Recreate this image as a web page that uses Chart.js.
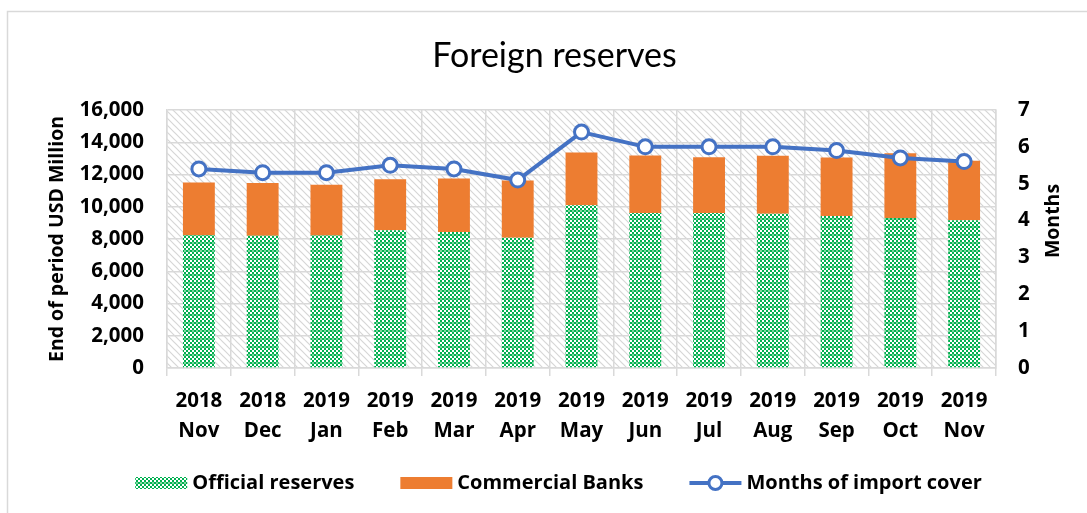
<!DOCTYPE html>
<html><head><meta charset="utf-8">
<script src="https://cdn.jsdelivr.net/npm/chart.js@4.4.0/dist/chart.umd.min.js"></script>
<style>
html,body{margin:0;padding:0;background:#fff;overflow:hidden}
#wrap{position:absolute;left:0;top:0;width:1087px;height:513px}
</style>
</head><body><div id="wrap"><canvas id="c" width="1087" height="513"></canvas></div>
<script>
const categories = [["2018","Nov"],["2018","Dec"],["2019","Jan"],["2019","Feb"],["2019","Mar"],["2019","Apr"],["2019","May"],["2019","Jun"],["2019","Jul"],["2019","Aug"],["2019","Sep"],["2019","Oct"],["2019","Nov"]];
const officialReserves = [8240, 8200, 8220, 8550, 8430, 8070, 10100, 9620, 9620, 9560, 9420, 9310, 9170];
const commercialBanks  = [3260, 3280, 3140, 3160, 3320, 3560, 3260, 3560, 3450, 3600, 3630, 4010, 3680];
const importCover      = [5.4, 5.3, 5.3, 5.5, 5.4, 5.1, 6.4, 6.0, 6.0, 6.0, 5.9, 5.7, 5.6];
const leftAxis = {min: 0, max: 16000, step: 2000};
const rightAxis = {min: 0, max: 7, step: 1};
const seriesNames = ["Official reserves", "Commercial Banks", "Months of import cover"];
const titleText = "Foreign reserves";
const leftTitle = "End of period USD Million";
const rightTitle = "Months";

const FONT = "'Open Sans'";
const TFONT = "Lato";
const GRID = "#d9d9d9";
const ORANGE = "#ed7d31";
const BLUE = "#4472c4";

function makeHatch() {
  const c = document.createElement('canvas'); c.width = 7; c.height = 7;
  const g = c.getContext('2d');
  g.fillStyle = '#fff'; g.fillRect(0,0,7,7);
  g.strokeStyle = '#d6d6d6'; g.lineWidth = 1.2;
  g.beginPath();
  g.moveTo(-1,-1); g.lineTo(8,8);
  g.moveTo(-1,6); g.lineTo(1,8);
  g.moveTo(6,-1); g.lineTo(8,1);
  g.stroke();
  return g.createPattern(c, 'repeat');
}
function makeChecker() {
  const c = document.createElement('canvas'); c.width = 8; c.height = 8;
  const g = c.getContext('2d');
  g.fillStyle = '#fff'; g.fillRect(0,0,8,8);
  for (let i = 0; i < 4; i++) for (let j = 0; j < 4; j++) {
    if ((i + j) % 2 === 0) { g.fillStyle = '#00b050'; g.fillRect(i*2, j*2, 2, 2); }
    else if (j === 1) { g.fillStyle = '#7fd7a0'; g.fillRect(i*2, j*2, 2, 2); }
  }
  g.fillStyle = '#ffffff'; g.fillRect(4,6,2,2);
  return g.createPattern(c, 'repeat');
}
const hatch = makeHatch();
const checker = makeChecker();

const decor = {
  id: 'decor',
  beforeDraw(chart) {
    const ctx = chart.ctx, a = chart.chartArea;
    ctx.save();
    ctx.strokeStyle = GRID; ctx.lineWidth = 1.5;
    ctx.strokeRect(7.5, 11.5, 1200, 600);
    ctx.fillStyle = hatch;
    ctx.fillRect(a.left, a.top, a.right - a.left, a.bottom - a.top);
    ctx.restore();
  },
  afterDraw(chart) {
    const ctx = chart.ctx;
    ctx.save();
    ctx.fillStyle = '#000';
    ctx.font = `34px ${TFONT}`;
    ctx.textAlign = 'center'; ctx.textBaseline = 'alphabetic';
    ctx.fillText(titleText, 554.5, 67);
    // right axis title, reading bottom to top
    ctx.save();
    ctx.font = `bold 19.5px ${FONT}`;
    ctx.textBaseline = 'middle';
    ctx.translate(1053, 221);
    ctx.rotate(-Math.PI / 2);
    ctx.fillText(rightTitle, 0, 0);
    ctx.restore();
    // legend
    ctx.font = `bold 20px ${FONT}`;
    ctx.textAlign = 'left'; ctx.textBaseline = 'middle';
    const sw = 52, gapT = 5, gapI = 46, cy = 483;
    const widths = seriesNames.map(n => ctx.measureText(n).width);
    const total = widths.reduce((s, w) => s + w, 0) + 3 * (sw + gapT) + 2 * gapI;
    let x = 558.5 - total / 2;
    const fills = [checker, ORANGE, null];
    seriesNames.forEach((n, i) => {
      if (fills[i]) {
        ctx.fillStyle = fills[i];
        ctx.fillRect(x, cy - 6, sw, 12);
      } else {
        ctx.strokeStyle = BLUE; ctx.lineWidth = 4;
        ctx.beginPath(); ctx.moveTo(x, cy); ctx.lineTo(x + sw, cy); ctx.stroke();
        ctx.fillStyle = '#fff'; ctx.lineWidth = 3;
        ctx.beginPath(); ctx.arc(x + sw / 2, cy, 6.5, 0, Math.PI * 2); ctx.fill(); ctx.stroke();
      }
      x += sw + gapT;
      ctx.fillStyle = '#000';
      ctx.fillText(n, x, cy);
      x += widths[i] + gapI;
    });
    ctx.restore();
  }
};

new Chart(document.getElementById('c'), {
  data: {
    labels: categories,
    datasets: [
      {type: 'bar', label: seriesNames[0], data: officialReserves, yAxisID: 'y', order: 1,
       backgroundColor: checker, barPercentage: 0.5, categoryPercentage: 1, stack: 's'},
      {type: 'bar', label: seriesNames[1], data: commercialBanks, yAxisID: 'y', order: 1,
       backgroundColor: ORANGE, barPercentage: 0.5, categoryPercentage: 1, stack: 's'},
      {type: 'line', label: seriesNames[2], data: importCover, yAxisID: 'y1', order: 0,
       borderColor: BLUE, borderWidth: 4, pointRadius: 7, pointBorderWidth: 3,
       pointBackgroundColor: '#fff', pointBorderColor: BLUE, tension: 0}
    ]
  },
  options: {
    responsive: false, animation: false, devicePixelRatio: 1,
    layout: {padding: {top: 110, left: 0, right: 0, bottom: 0}},
    plugins: {legend: {display: false}, title: {display: false}, tooltip: {enabled: false}},
    scales: {
      x: {
        stacked: true, offset: true,
        grid: {offset: true, color: GRID, lineWidth: 1.5, tickLength: 8, drawTicks: true},
        border: {color: GRID, width: 1.5},
        ticks: {color: '#000', font: {family: FONT, weight: 'bold', size: 20.5, lineHeight: 1.42},
                padding: 11, maxRotation: 0, autoSkip: false},
        afterFit(s) { s.height = 145; }
      },
      y: {
        position: 'left', stacked: true, min: leftAxis.min, max: leftAxis.max,
        grid: {color: GRID, lineWidth: 1.5, drawTicks: false},
        border: {color: GRID, width: 1.5},
        ticks: {stepSize: leftAxis.step, color: '#000', padding: 23,
                font: {family: FONT, weight: 'bold', size: 20.5},
                callback: v => v.toLocaleString('en-US')},
        title: {display: true, text: leftTitle, color: '#000',
                font: {family: FONT, weight: 'bold', size: 19.5}, padding: {top: 46, bottom: 0}},
        afterFit(s) { s.width = 167; }
      },
      y1: {
        position: 'right', min: rightAxis.min, max: rightAxis.max,
        grid: {drawOnChartArea: false, drawTicks: false},
        border: {color: GRID, width: 1.5},
        ticks: {stepSize: rightAxis.step, color: '#000', padding: 22,
                font: {family: FONT, weight: 'bold', size: 20.5}},
        afterFit(s) { s.width = 91; }
      }
    }
  },
  plugins: [decor]
});
</script>
</body></html>
